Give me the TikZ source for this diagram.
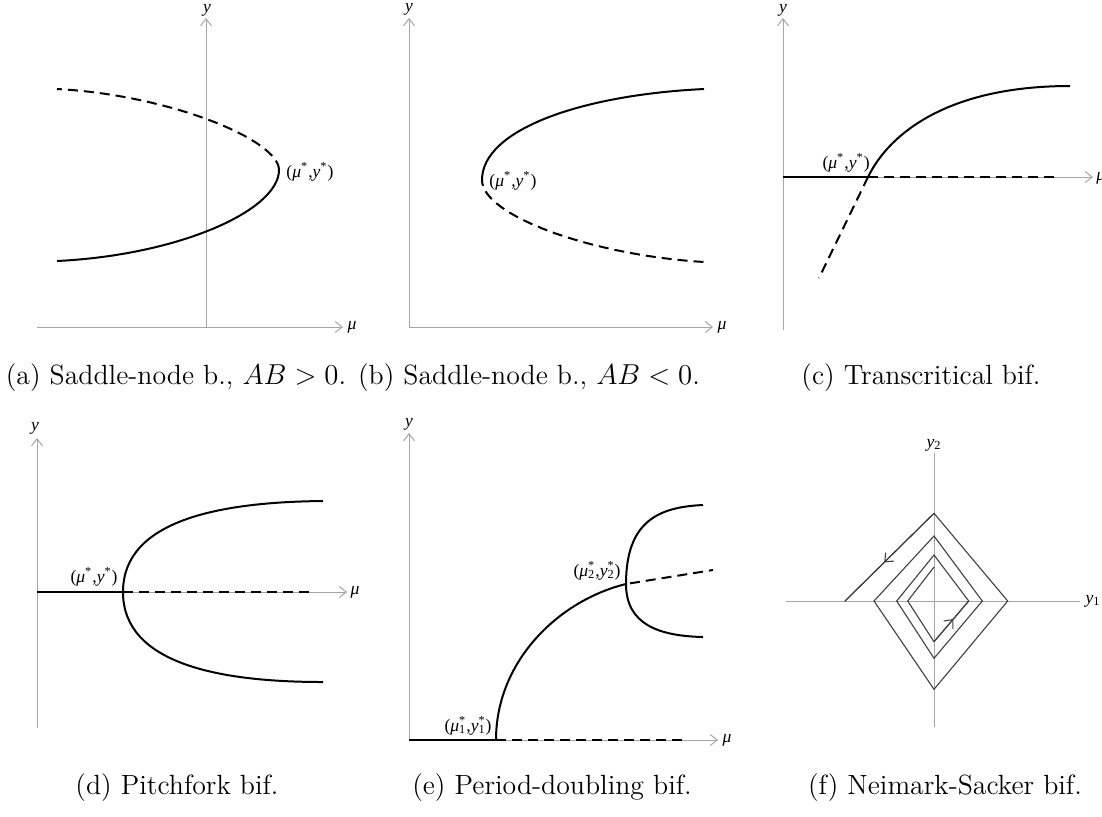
\documentclass[tikz,border=0pt]{standalone}
\usepackage{fontspec}
\usepackage{tikz}
\usetikzlibrary{arrows.meta, decorations.markings}
\newfontfamily\plotfont{Liberation Serif}
\newcommand{\ptlabel}[2]{(\textit{μ}\textsuperscript{*}#1,\textit{y}\textsuperscript{*}#2)}
\newcommand{\ptsub}[1]{\textit{μ}\rlap{\textsuperscript{*}}\textsubscript{#1},\textit{y}\rlap{\textsuperscript{*}}\textsubscript{#1}}

\begin{document}
\begin{tikzpicture}[x=0.5pt, y=-0.5pt]
\tikzstyle{axis} = [draw=gray!70, line width=0.5pt]
\tikzstyle{axisarrow} = [axis, -{Straight Barb[length=3.5pt, width=5.5pt]}]
\tikzstyle{stable} = [line width=1pt]
\tikzstyle{unstable} = [line width=1pt, dash pattern=on 5pt off 3pt]
\tikzstyle{lbl} = [font=\plotfont\fontsize{8.8}{10}\selectfont, inner sep=0.5pt]
\tikzstyle{caption} = [font=\fontsize{13.9}{17}\selectfont]
\tikzstyle{orbit} = [draw=gray!50!black, line width=0.55pt]
\tikzstyle{midarrow} = [postaction={decorate}, decoration={markings, mark=at position 0.56 with {\arrow{Straight Barb[length=3.5pt, width=6pt]}}}]

\useasboundingbox (0,0) rectangle (1102,816);

% (a) saddle-node, AB > 0
\coordinate (aO) at (206,327);
\coordinate (aL) at (37,327);
\coordinate (aX) at (343,327);
\coordinate (aY) at (206,18);
\coordinate (anose) at (279,170);
\draw [axisarrow] (aL) -- (aX);
\draw [axisarrow] (aO) -- (aY);
\node (aylbl) [lbl] at (207,10) {\textit{y}};
\node (amulbl) [lbl] at (352,327) {\textit{μ}};
\draw [unstable] (anose) .. controls (279,140) and (170,95) .. (57,89);
\draw [stable] (anose) .. controls (279,210) and (180,255) .. (57,261);
\node (apt) [lbl, anchor=west] at (285,172) {\ptlabel{}{}};
\node (capa) [caption] at (176,378) {(a) Saddle-node b., $AB>0$.};

% (b) saddle-node, AB < 0
\coordinate (bO) at (409,327);
\coordinate (bX) at (713,327);
\coordinate (bY) at (409,18);
\coordinate (bnose) at (482,180);
\draw [axisarrow] (bO) -- (bX);
\draw [axisarrow] (bO) -- (bY);
\node (bylbl) [lbl] at (409,9) {\textit{y}};
\node (bmulbl) [lbl] at (722,327) {\textit{μ}};
\draw [stable] (bnose) .. controls (482,130) and (580,95) .. (704,89);
\draw [unstable, dash phase=2pt] (bnose) .. controls (482,215) and (590,255) .. (704,262);
\node (bpt) [lbl, anchor=west] at (488,181) {\ptlabel{}{}};
\node (capb) [caption] at (529,378) {(b) Saddle-node b., $AB<0$.};

% (c) transcritical
\coordinate (cO) at (783,177);
\coordinate (cB) at (783,330);
\coordinate (cX) at (1093,177);
\coordinate (cY) at (783,18);
\coordinate (ccross) at (868,177);
\draw [axisarrow] (cO) -- (cX);
\draw [axisarrow] (cB) -- (cY);
\node (cylbl) [lbl] at (783,10) {\textit{y}};
\node (cmulbl) [lbl, anchor=west] at (1095,178) {\textit{μ}};
\draw [stable] (cO) -- (ccross);
\draw [unstable] (ccross) -- (1057,177);
\draw [stable] (ccross) .. controls (890,132) and (950,86) .. (1070,86);
\draw [unstable] (ccross) -- (819,278);
\node (cpt) [lbl, anchor=south east] at (871,174) {\ptlabel{}{}};
\node (capc) [caption] at (921,378) {(c) Transcritical bif.};

% (d) pitchfork
\coordinate (dO) at (37,592);
\coordinate (dB) at (37,728);
\coordinate (dX) at (347,592);
\coordinate (dY) at (37,438);
\coordinate (dcross) at (123,592);
\draw [axisarrow] (dO) -- (dX);
\draw [axisarrow] (dB) -- (dY);
\node (dylbl) [lbl] at (35,428) {\textit{y}};
\node (dmulbl) [lbl] at (355,592) {\textit{μ}};
\draw [stable] (dO) -- (dcross);
\draw [unstable] (dcross) -- (310,592);
\draw [stable] (323,501) .. controls (220,502) and (123,520) .. (dcross)
  .. controls (123,664) and (220,682) .. (323,682);
\node (dpt) [lbl, anchor=south east] at (119,588) {\ptlabel{}{}};
\node (capd) [caption] at (177,788) {(d) Pitchfork bif.};

% (e) period-doubling
\coordinate (eO) at (409,740);
\coordinate (eX) at (718,740);
\coordinate (eY) at (409,433);
\coordinate (efirst) at (496,740);
\coordinate (esecond) at (626,584);
\draw [axisarrow] (eO) -- (eX);
\draw [axisarrow] (eO) -- (eY);
\node (eylbl) [lbl] at (409,424) {\textit{y}};
\node (emulbl) [lbl] at (727,740) {\textit{μ}};
\draw [stable] (eO) -- (efirst);
\draw [unstable] (efirst) -- (683,740);
\draw [stable] (efirst) .. controls (496,660) and (560,600) .. (esecond);
\draw [stable] (703,505) .. controls (660,507) and (626,520) .. (esecond)
  .. controls (626,625) and (660,636) .. (703,637);
\draw [unstable, dash phase=6pt] (esecond) -- (713,570);
\node (ept1) [lbl, anchor=south east] at (493,737) {(\ptsub{1})};
\node (ept2) [lbl, anchor=south east] at (622,582) {(\ptsub{2})};
\node (cape) [caption] at (552,788) {(e) Period-doubling bif.};

% (f) Neimark-Sacker
\coordinate (fL) at (786,601);
\coordinate (fR) at (1080,601);
\coordinate (fT) at (934,453);
\coordinate (fB) at (934,727);
\draw [axis] (fL) -- (fR);
\draw [axis] (fB) -- (fT);
\node (fy1) [lbl] at (1093,601) {\textit{y}\textsubscript{1}};
\node (fy2) [lbl] at (934,445) {\textit{y}\textsubscript{2}};
\coordinate (f0) at (934,567);
\coordinate (fl1) at (907.7,601);
\coordinate (fb1) at (934,641.7);
\coordinate (fr1) at (968.7,601);
\coordinate (ft1) at (934,555);
\coordinate (fl2) at (896.7,601);
\coordinate (fb2) at (934,658.3);
\coordinate (fr2) at (982.3,601);
\coordinate (ft2) at (934,536);
\coordinate (fl3) at (874,601);
\coordinate (fb3) at (934,689.3);
\coordinate (fr3) at (1007.7,601);
\coordinate (ft3) at (934,513.3);
\coordinate (fl4) at (845,601);
\draw [orbit] (f0) -- (fl1) -- (fb1) -- (fr1) -- (ft1) -- (fl2) -- (fb2) -- (fr2)
  -- (ft2) -- (fl3) -- (fb3) -- (fr3) -- (ft3) -- (fl4);
\draw [orbit, midarrow] (fb1) -- (fr1);
\draw [orbit, midarrow] (ft3) -- (fl4);
\node (capf) [caption] at (945,788) {(f) Neimark-Sacker bif.};
\end{tikzpicture}
\end{document}
